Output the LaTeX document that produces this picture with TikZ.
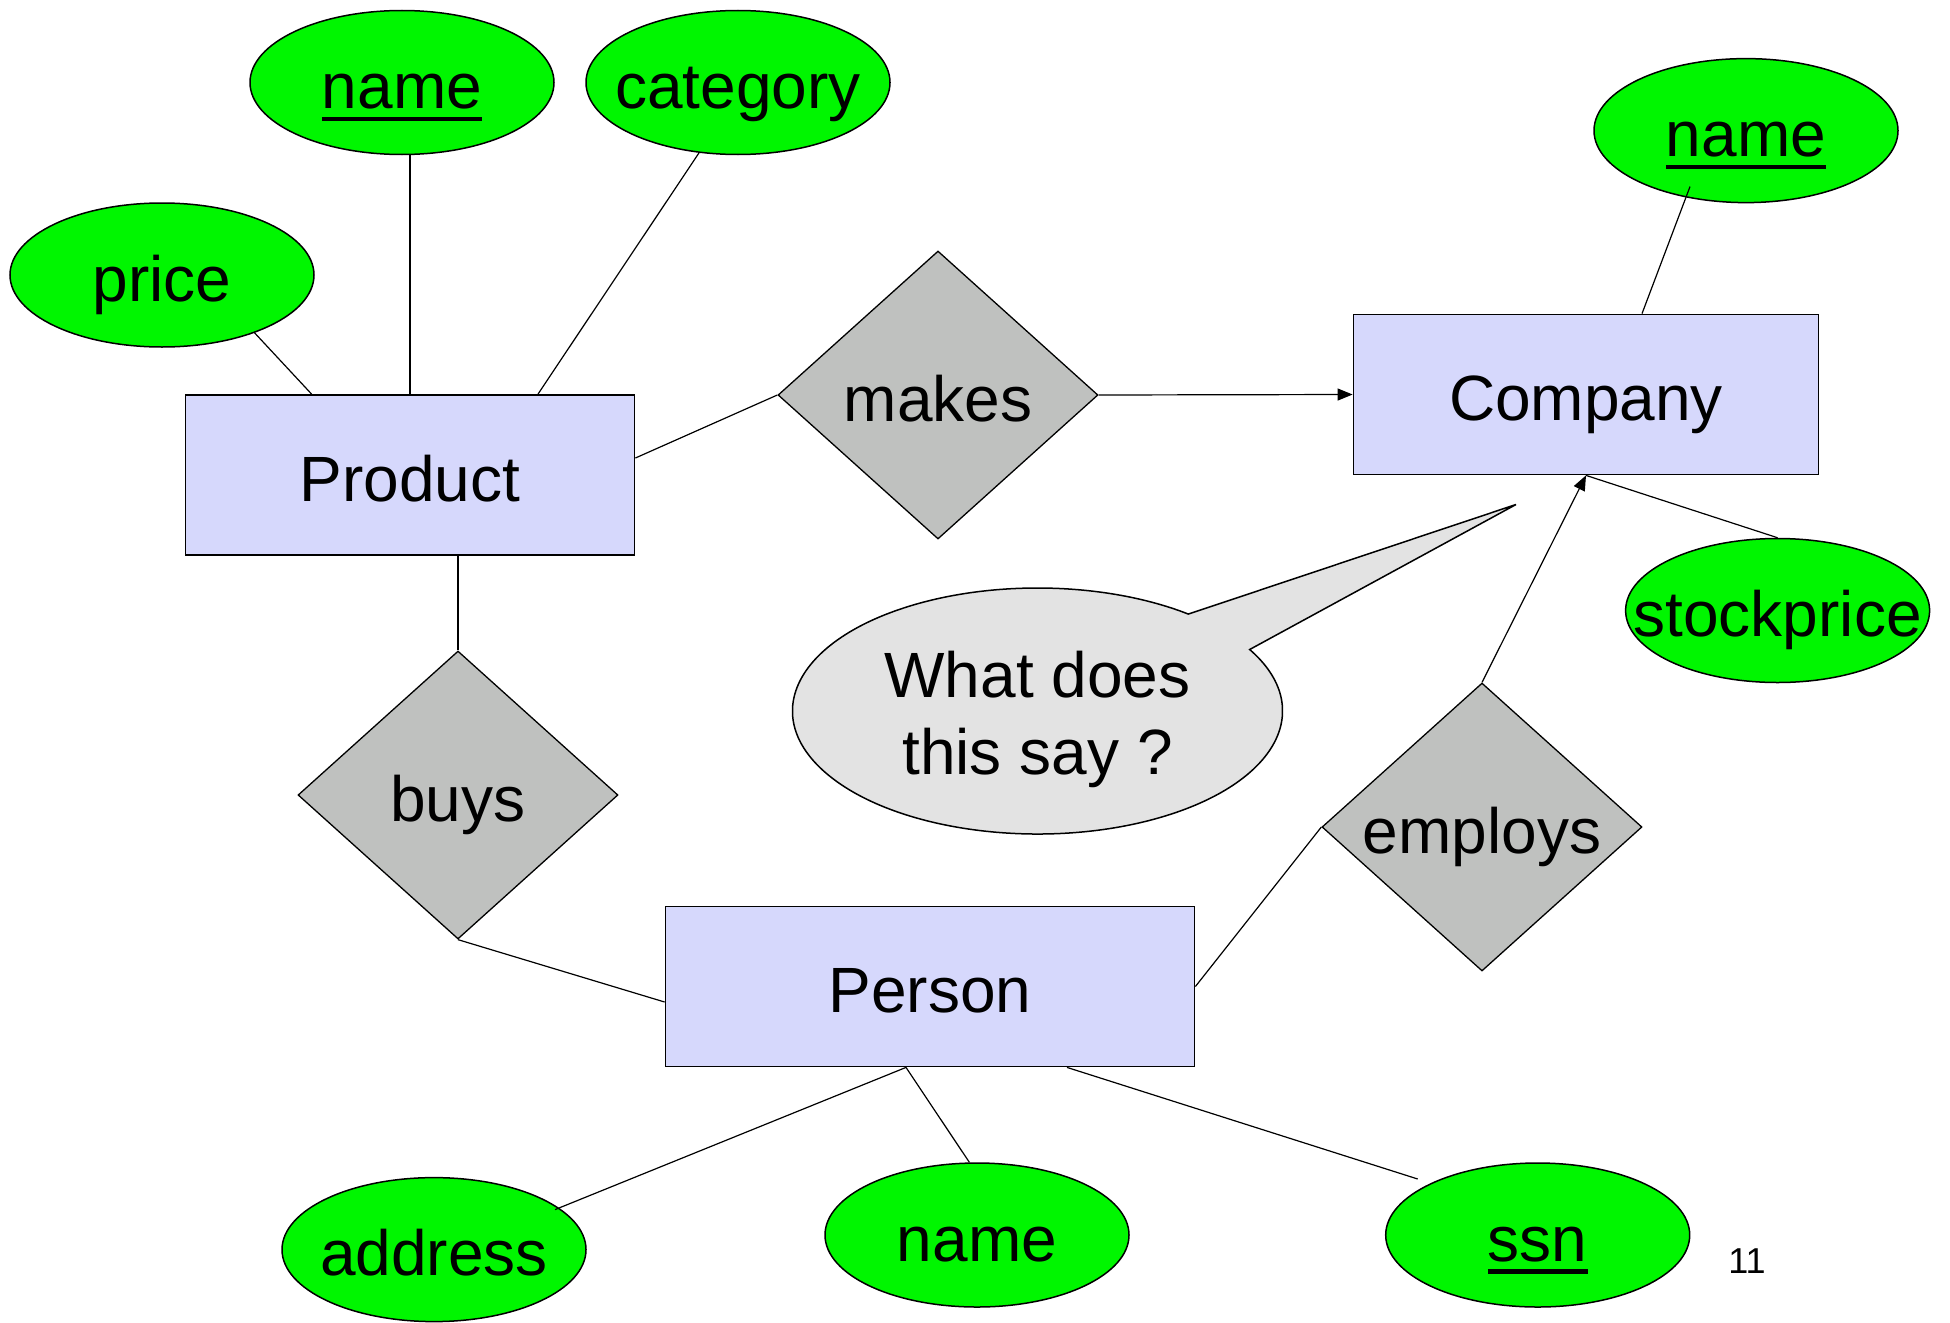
\documentclass[tikz,border=0pt]{standalone}
\usepackage{fontspec}
\setmainfont{Liberation Sans}
\usetikzlibrary{shapes.geometric,arrows.meta}
\definecolor{attrgreen}{RGB}{0,246,0}
\definecolor{entblue}{RGB}{214,216,252}
\definecolor{relgray}{RGB}{191,193,191}
\definecolor{bubgray}{RGB}{227,227,227}
\newcommand\zb[1]{\makebox[0pt]{#1}}
\newcommand\keyul[1]{\makebox[0pt]{\setbox0\hbox{#1}\rlap{\rule[-12.5pt]{\wd0}{4.5pt}}\box0}}
\tikzset{
  attr/.style={ellipse, draw, line width=1.5pt, fill=attrgreen, minimum width=304pt,
    minimum height=144pt, inner sep=0pt, text height=60pt, text depth=8pt},
  entity/.style={rectangle, draw, line width=1.8pt, fill=entblue, minimum width=449pt,
    minimum height=160pt, inner sep=0pt, text height=60pt, text depth=8pt},
  rel/.style={diamond, draw, line width=1.3pt, fill=relgray, aspect=1.111,
    minimum width=320pt, minimum height=288pt, inner sep=0pt, text height=60pt, text depth=8pt},
  conn/.style={line width=1.2pt},
  arr/.style={conn, -{Triangle[length=15pt,width=12pt]}}
}
\begin{document}
\begin{tikzpicture}[x=1pt,y=-1pt,font=\fontsize{64}{66}\selectfont]
\useasboundingbox (0,0) rectangle (1950,1322);
% bubble
\coordinate (bc) at (1037.5,711);
\coordinate (tip) at (1516,504.5);
\draw[line width=1.5pt, fill=bubgray] ([shift={(-52:245 and 123)}]bc) -- (tip) -- ([shift={(-30:245 and 123)}]bc)
  arc[start angle=-30, end angle=308, x radius=245, y radius=123] -- cycle;
\node[align=center, anchor=base, inner sep=0pt, font=\fontsize{64}{77}\selectfont] (q) at (1037.5,774) {What does\\this say ?};
% nodes
\node[attr] (pname) at (402,82.5) {\keyul{name}};
\node[attr] (cat) at (738,82.5) {\zb{category}};
\node[attr] (price) at (162,275) {\zb{price}};
\node[entity] (prod) at (410,475) {Product};
\node[rel] (makes) at (938,395) {\zb{makes}};
\node[entity, minimum width=465pt] (comp) at (1586,394.5) {Company};
\node[attr] (cname) at (1746,130.6) {\keyul{name}};
\node[attr] (stock) at (1777.6,610.5) {\zb{stockprice}};
\node[rel] (buys) at (458,795) {\zb{buys}};
\node[rel] (emp) at (1482,827) {\zb{employs}};
\node[entity, minimum width=529pt] (pers) at (930,986.5) {Person};
\node[attr] (addr) at (434,1249.6) {\zb{address}};
\node[attr] (pnm) at (977,1235) {\zb{name}};
\node[attr] (ssn) at (1537.7,1235) {\keyul{ssn}};
\node[font=\fontsize{36}{40}\selectfont, anchor=base, inner sep=0pt] (pg) at (1747,1273) {11};
% connectors
\draw[conn] (price.-32) -- ([xshift=127pt]prod.north west);
\draw[conn] (prod.north |- pname.south) -- (prod.north);
\draw[conn] (cat.-119) -- ([xshift=128pt]prod.north);
\draw[conn] ([yshift=17pt]prod.east) -- (makes.west);
\draw[arr] (makes.east) -- (comp.west);
\draw[conn] (buys.north |- prod.south) -- (buys.north);
\draw[conn] (buys.south) -- ([yshift=-15.5pt]pers.west);
\draw[conn] (pers.east) -- (emp.west);
\draw[arr] (emp.north) -- (comp.south);
\draw[conn] (comp.south) -- (stock.north);
\draw[conn] ([xshift=56pt]comp.north) -- ([xshift=-56pt,yshift=-56pt]cname.center);
\draw[conn] ([xshift=-24pt]pers.south) -- ([xshift=121pt,yshift=40pt]addr.center);
\draw[conn] ([xshift=-24pt]pers.south) -- (pnm.96);
\draw[conn] ([xshift=137pt]pers.south) -- ([xshift=-120pt,yshift=56pt]ssn.center);
\end{tikzpicture}
\end{document}
